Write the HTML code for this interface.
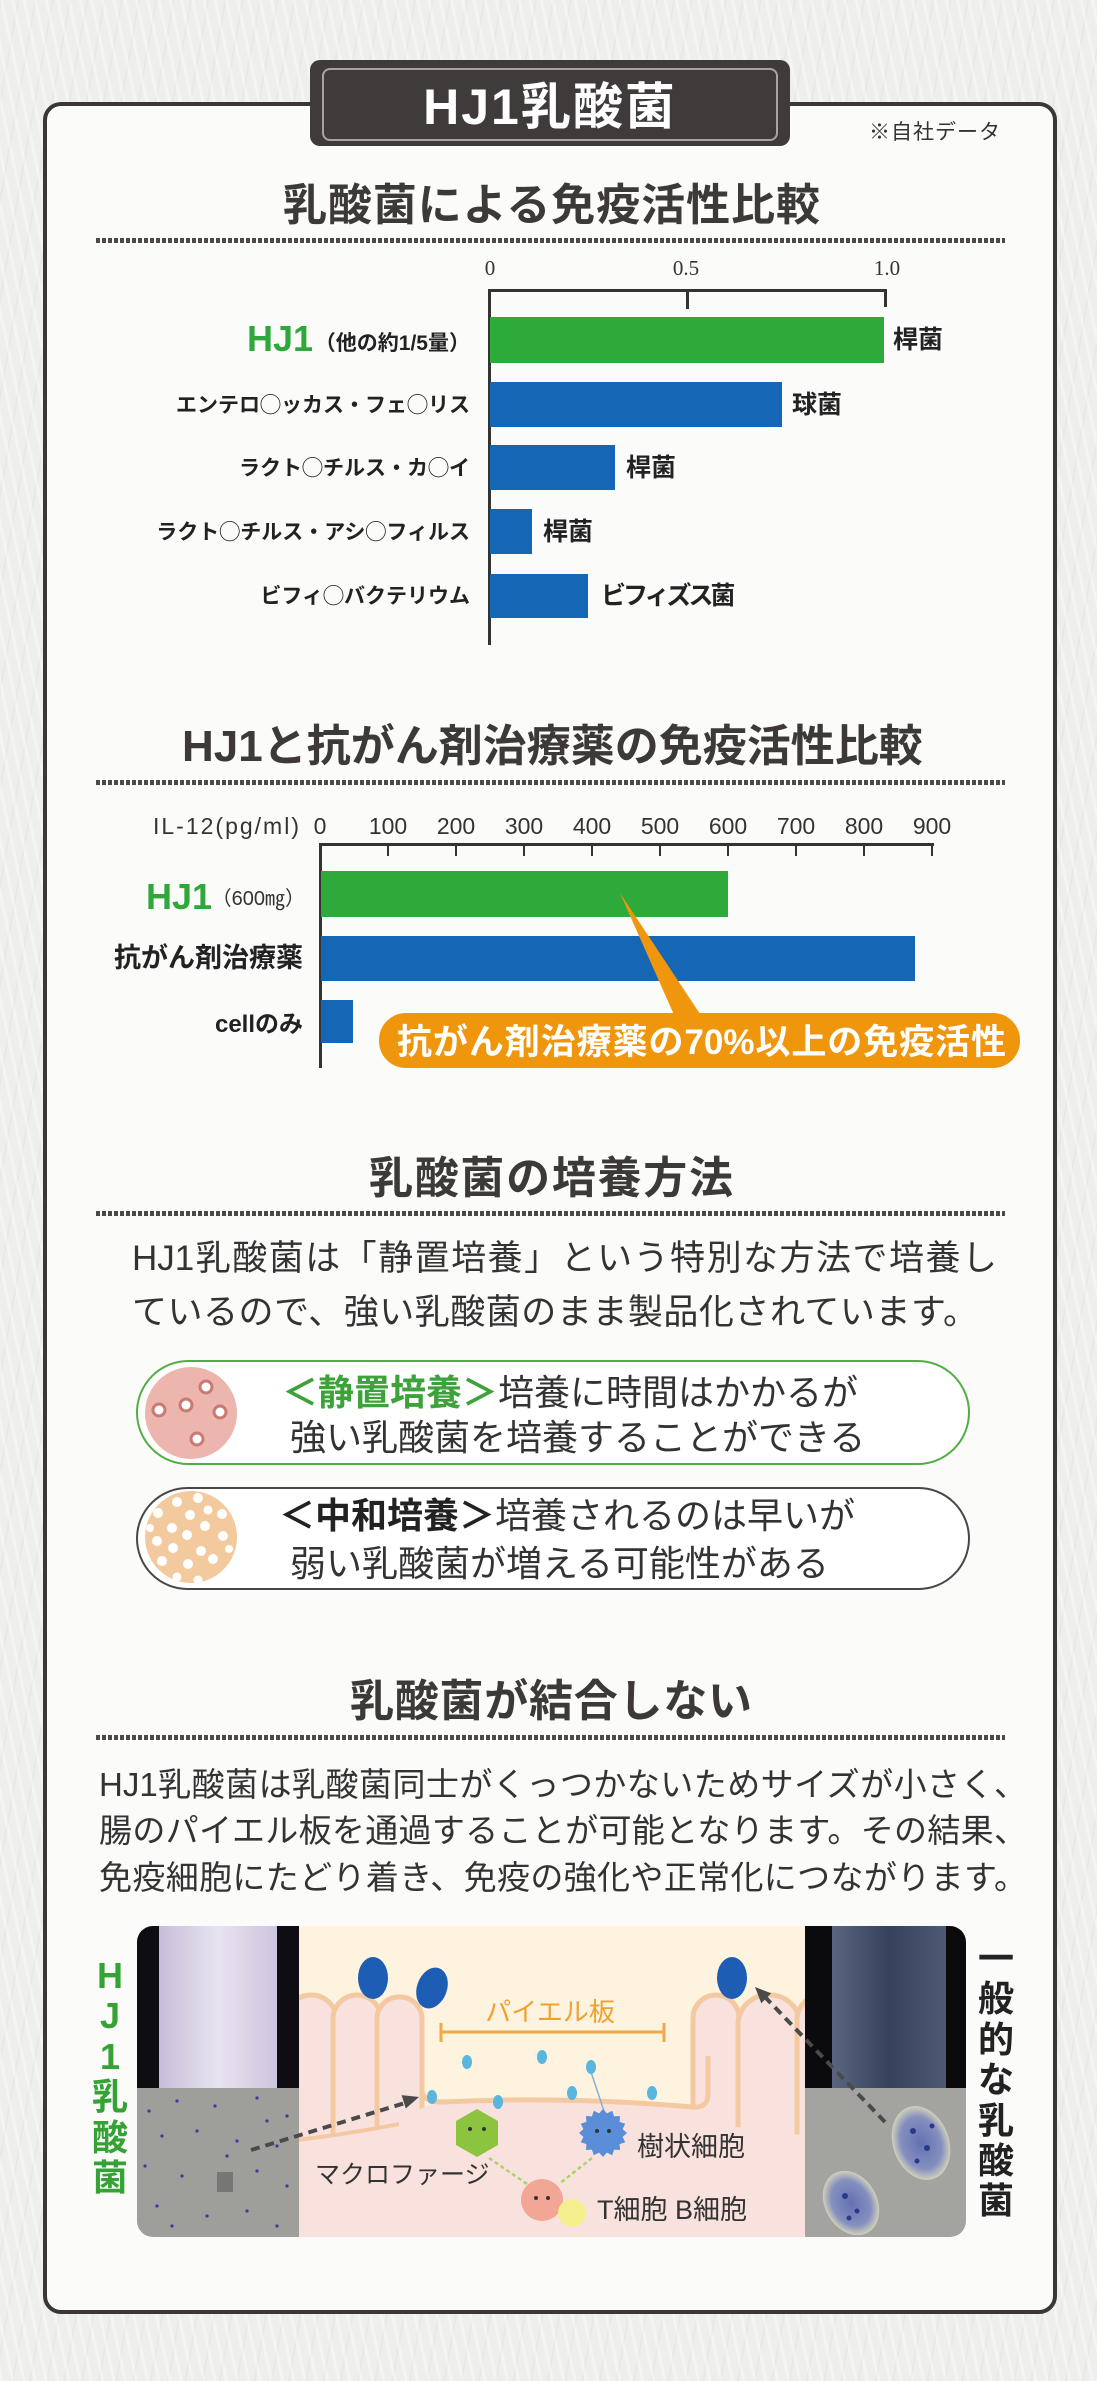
<!DOCTYPE html>
<html lang="ja">
<head>
<meta charset="utf-8">
<style>
html,body{margin:0;padding:0;}
body{width:1097px;height:2381px;position:relative;overflow:hidden;background:#eeeeec;font-family:"Liberation Sans","Noto Sans CJK JP",sans-serif;color:#333;}
.bgtex{position:absolute;left:0;top:0;width:1097px;height:2381px;background:
 repeating-linear-gradient(78deg,rgba(255,255,255,0.35) 0 3px,rgba(0,0,0,0) 3px 11px),
 repeating-linear-gradient(100deg,rgba(0,0,0,0.025) 0 2px,rgba(0,0,0,0) 2px 17px);}
.a{position:absolute;white-space:nowrap;}
.j{text-align:justify;text-align-last:justify;}
.card{position:absolute;left:43px;top:102px;width:1014px;height:2212px;box-sizing:border-box;border:4px solid #3b3737;border-radius:18px;background:#fbfbfa;}
.tab{position:absolute;left:310px;top:60px;width:480px;height:86px;background:#403b3b;border-radius:10px;}
.tabin{position:absolute;left:322px;top:68px;width:456px;height:73px;box-sizing:border-box;border:2px solid #a9a3a0;border-radius:8px;}
.t{font-size:44px;line-height:44px;font-weight:700;color:#3d3939;}
.dot{position:absolute;left:96px;width:909px;height:5px;background:repeating-linear-gradient(to right,#4d4949 0 4px,rgba(0,0,0,0) 4px 6px);}
.bar{position:absolute;}
.g{background:#2eaa3b;}
.b{background:#1566b4;}
.lab{font-size:21px;line-height:21px;font-weight:700;color:#222;}
.rl{font-size:25px;line-height:25px;font-weight:700;color:#222;}
.tk{font-size:23px;line-height:23px;color:#333;width:60px;text-align:center;}
.sk{font-family:"Liberation Serif",serif;font-size:21px;line-height:21px;color:#333;width:60px;text-align:center;}
.p35{font-size:35px;line-height:35px;color:#333;}
.p36{font-size:36px;line-height:36px;color:#333;}
.p33{font-size:33px;line-height:33px;color:#333;}
.vt{position:absolute;width:40px;text-align:center;font-size:36px;line-height:40.4px;font-weight:700;}
</style>
</head>
<body>
<div class="bgtex"></div>

<!-- main card -->
<div class="card"></div>
<div class="tab"></div>
<div class="tabin"></div>
<div class="a" style="left:310px;top:82px;width:480px;text-align:center;font-size:50px;line-height:50px;font-weight:700;color:#fff;letter-spacing:2px;">HJ1乳酸菌</div>
<div class="a" style="left:869px;top:122px;font-size:21px;line-height:21px;letter-spacing:1px;color:#333;">※自社データ</div>

<!-- Section 1 -->
<div class="a t j" style="left:283px;top:184px;width:537px;">乳酸菌による免疫活性比較</div>
<div class="dot" style="top:238px;"></div>

<div class="a sk" style="left:460px;top:258px;">0</div>
<div class="a sk" style="left:656px;top:258px;">0.5</div>
<div class="a sk" style="left:857px;top:258px;">1.0</div>
<div class="bar" style="left:488px;top:289px;width:399px;height:2.5px;background:#333;"></div>
<div class="bar" style="left:488px;top:289px;width:2.5px;height:356px;background:#333;"></div>
<div class="bar" style="left:686px;top:289px;width:2.5px;height:20px;background:#333;"></div>
<div class="bar" style="left:884px;top:289px;width:2.5px;height:18px;background:#333;"></div>

<div class="bar g" style="left:490px;top:317px;width:394px;height:46px;"></div>
<div class="bar b" style="left:490px;top:382px;width:292px;height:45px;"></div>
<div class="bar b" style="left:490px;top:445px;width:125px;height:45px;"></div>
<div class="bar b" style="left:490px;top:509px;width:42px;height:45px;"></div>
<div class="bar b" style="left:490px;top:574px;width:98px;height:44px;"></div>

<div class="a" style="right:784px;top:321px;font-size:36px;line-height:36px;font-weight:700;color:#2ea83a;">HJ1</div>
<div class="a lab" style="right:627px;top:333px;">（他の約1/5量）</div>
<div class="a lab" style="right:627px;top:395px;">エンテロ◯ッカス・フェ◯リス</div>
<div class="a lab" style="right:627px;top:458px;">ラクト◯チルス・カ◯イ</div>
<div class="a lab" style="right:627px;top:522px;">ラクト◯チルス・アシ◯フィルス</div>
<div class="a lab" style="right:627px;top:586px;">ビフィ◯バクテリウム</div>

<div class="a rl" style="left:893px;top:328px;">桿菌</div>
<div class="a rl" style="left:792px;top:393px;">球菌</div>
<div class="a rl" style="left:626px;top:456px;">桿菌</div>
<div class="a rl" style="left:543px;top:520px;">桿菌</div>
<div class="a rl" style="left:601px;top:584px;letter-spacing:-3px;">ビフィズス菌</div>

<!-- Section 2 -->
<div class="a t j" style="left:182px;top:725px;width:739px;">HJ1と抗がん剤治療薬の免疫活性比較</div>
<div class="dot" style="top:780px;"></div>

<div class="a" style="left:153px;top:815px;font-size:23px;line-height:23px;letter-spacing:2px;color:#333;">IL-12(pg/ml)</div>
<div class="a tk" style="left:290px;top:815px;">0</div>
<div class="a tk" style="left:358px;top:815px;">100</div>
<div class="a tk" style="left:426px;top:815px;">200</div>
<div class="a tk" style="left:494px;top:815px;">300</div>
<div class="a tk" style="left:562px;top:815px;">400</div>
<div class="a tk" style="left:630px;top:815px;">500</div>
<div class="a tk" style="left:698px;top:815px;">600</div>
<div class="a tk" style="left:766px;top:815px;">700</div>
<div class="a tk" style="left:834px;top:815px;">800</div>
<div class="a tk" style="left:902px;top:815px;">900</div>

<div class="bar" style="left:319px;top:843px;width:615px;height:2.5px;background:#333;"></div>
<div class="bar" style="left:319px;top:843px;width:2.5px;height:225px;background:#333;"></div>
<div class="bar" style="left:387px;top:843px;width:2px;height:13px;background:#333;"></div>
<div class="bar" style="left:455px;top:843px;width:2px;height:13px;background:#333;"></div>
<div class="bar" style="left:523px;top:843px;width:2px;height:13px;background:#333;"></div>
<div class="bar" style="left:591px;top:843px;width:2px;height:13px;background:#333;"></div>
<div class="bar" style="left:659px;top:843px;width:2px;height:13px;background:#333;"></div>
<div class="bar" style="left:727px;top:843px;width:2px;height:13px;background:#333;"></div>
<div class="bar" style="left:795px;top:843px;width:2px;height:13px;background:#333;"></div>
<div class="bar" style="left:863px;top:843px;width:2px;height:13px;background:#333;"></div>
<div class="bar" style="left:931px;top:843px;width:2px;height:13px;background:#333;"></div>

<div class="bar g" style="left:321px;top:871px;width:407px;height:46px;"></div>
<div class="bar b" style="left:321px;top:936px;width:594px;height:45px;"></div>
<div class="bar b" style="left:321px;top:1000px;width:32px;height:43px;"></div>

<div class="a" style="left:146px;top:879px;font-size:36px;line-height:36px;font-weight:700;color:#2ea83a;">HJ1</div>
<div class="a" style="right:792px;top:889px;font-size:20px;line-height:20px;color:#333;">（600㎎）</div>
<div class="a" style="right:794px;top:945px;font-size:27px;line-height:27px;font-weight:700;color:#222;">抗がん剤治療薬</div>
<div class="a" style="right:794px;top:1013px;font-size:24px;line-height:24px;font-weight:700;color:#222;">cellのみ</div>

<svg class="a" style="left:600px;top:880px;" width="120" height="140" viewBox="0 0 120 140">
<polygon points="20,13 75,137 102,137" fill="#f0960c"/>
</svg>
<div class="a" style="left:379px;top:1013px;width:641px;height:55px;background:#f0960c;border-radius:27px;"></div>
<div class="a j" style="left:397px;top:1025px;width:609px;font-size:35px;line-height:35px;font-weight:700;color:#fff;">抗がん剤治療薬の70%以上の免疫活性</div>

<!-- Section 3 -->
<div class="a t j" style="left:369px;top:1157px;width:364px;">乳酸菌の培養方法</div>
<div class="dot" style="top:1211px;"></div>

<div class="a p35 j" style="left:132px;top:1241px;width:865px;">HJ1乳酸菌は「静置培養」という特別な方法で培養し</div>
<div class="a p35 j" style="left:132px;top:1295px;width:846px;">ているので、強い乳酸菌のまま製品化されています。</div>

<div class="a" style="left:136px;top:1360px;width:834px;height:105px;box-sizing:border-box;border:2.5px solid #52ae43;border-radius:53px;background:#fff;"></div>
<div class="a" style="left:136px;top:1487px;width:834px;height:103px;box-sizing:border-box;border:2px solid #4a4646;border-radius:52px;background:#fff;"></div>
<svg class="a" style="left:0;top:1340px;" width="300" height="270" viewBox="0 1340 300 270">
<circle cx="191" cy="1413" r="46" fill="#ecb6ae"/>
<g fill="#fff" stroke="#c97a72" stroke-width="3">
<circle cx="159" cy="1410" r="6"/><circle cx="186" cy="1405" r="6"/><circle cx="206" cy="1387" r="6"/><circle cx="220" cy="1412" r="6"/><circle cx="197" cy="1439" r="6"/>
</g>
<circle cx="191" cy="1537" r="46" fill="#f2ca9e"/>
<g fill="#fff">
<circle cx="177" cy="1502" r="5"/><circle cx="198" cy="1498" r="5"/><circle cx="158" cy="1513" r="5"/><circle cx="190" cy="1515" r="5"/><circle cx="208" cy="1510" r="4.5"/><circle cx="222" cy="1514" r="5"/><circle cx="172" cy="1528" r="5"/><circle cx="205" cy="1526" r="5"/><circle cx="157" cy="1541" r="5"/><circle cx="187" cy="1535" r="5"/><circle cx="223" cy="1536" r="5"/><circle cx="173" cy="1548" r="5"/><circle cx="201" cy="1551" r="5"/><circle cx="162" cy="1561" r="5"/><circle cx="188" cy="1564" r="5"/><circle cx="213" cy="1559" r="5"/><circle cx="177" cy="1577" r="4.5"/><circle cx="198" cy="1580" r="4.5"/><circle cx="229" cy="1549" r="4"/><circle cx="150" cy="1528" r="4"/>
</g>
</svg>

<div class="a p36" style="left:282px;top:1375px;"><span style="font-weight:700;color:#3da23a;">＜静置培養＞</span>培養に時間はかかるが</div>
<div class="a p36" style="left:290px;top:1420px;">強い乳酸菌を培養することができる</div>
<div class="a p36" style="left:279px;top:1498px;"><span style="font-weight:700;color:#222;">＜中和培養＞</span>培養されるのは早いが</div>
<div class="a p36" style="left:290px;top:1546px;">弱い乳酸菌が増える可能性がある</div>

<!-- Section 4 -->
<div class="a t j" style="left:350px;top:1680px;width:402px;">乳酸菌が結合しない</div>
<div class="dot" style="top:1735px;"></div>

<div class="a p33 j" style="left:99px;top:1768px;width:928px;">HJ1乳酸菌は乳酸菌同士がくっつかないためサイズが小さく、</div>
<div class="a p33 j" style="left:99px;top:1814px;width:928px;">腸のパイエル板を通過することが可能となります。その結果、</div>
<div class="a p33 j" style="left:99px;top:1861px;width:928px;">免疫細胞にたどり着き、免疫の強化や正常化につながります。</div>

<!-- Illustration -->
<svg class="a" style="left:137px;top:1926px;" width="829" height="311" viewBox="0 0 829 311">
<defs>
<clipPath id="cl"><rect x="0" y="0" width="829" height="311" rx="16"/></clipPath>
<linearGradient id="lav" x1="0" x2="1" y1="0" y2="0"><stop offset="0" stop-color="#c6bed9"/><stop offset="0.5" stop-color="#e8e3f0"/><stop offset="1" stop-color="#cdc5de"/></linearGradient>
<linearGradient id="col" x1="0" x2="1" y1="0" y2="0"><stop offset="0" stop-color="#5a6680"/><stop offset="0.5" stop-color="#36425c"/><stop offset="1" stop-color="#4e5a74"/></linearGradient>
<radialGradient id="clu"><stop offset="0" stop-color="#5868b4"/><stop offset="0.7" stop-color="#7f8cc4"/><stop offset="1" stop-color="#d8d8c0"/></radialGradient>
</defs>
<g clip-path="url(#cl)">
<rect x="162" y="0" width="506" height="311" fill="#fdf3de"/>
<g fill="#f9e2de" stroke="#f4c9a2" stroke-width="5">
<rect x="148" y="69" width="52" height="170" rx="26"/>
<rect x="196" y="69" width="48" height="170" rx="24"/>
<rect x="240" y="71" width="45" height="160" rx="22"/>
<rect x="556" y="69" width="46" height="160" rx="23"/>
<rect x="601" y="69" width="62" height="170" rx="30"/>
<rect x="660" y="69" width="50" height="170" rx="25"/>
</g>
<path d="M150,311 L150,215 L262,200 Q283,178 305,176 Q430,170 556,181 Q580,184 590,200 L690,212 L690,311 Z" fill="#f9e2de"/>
<path d="M285,130 L285,166 Q287,176 305,176 Q430,170 556,181 Q570,182 571,170 L571,130" fill="none" stroke="#f4c9a2" stroke-width="5"/>
<path d="M150,215 Q200,210 262,198" fill="none" stroke="#f4c9a2" stroke-width="4"/>

<ellipse cx="236" cy="52" rx="15" ry="21" fill="#1d5db4"/>
<ellipse cx="295" cy="62" rx="15" ry="21" fill="#1d5db4" transform="rotate(20 295 62)"/>
<ellipse cx="595" cy="52" rx="15" ry="21" fill="#1d5db4"/>

<text x="413" y="95" text-anchor="middle" font-family="Liberation Sans, Noto Sans CJK JP, sans-serif" font-size="26" fill="#f0a030">パイエル板</text>
<g stroke="#f0a848" stroke-width="3">
<line x1="303" y1="106" x2="528" y2="106"/>
<line x1="304" y1="97" x2="304" y2="116"/>
<line x1="527" y1="97" x2="527" y2="116"/>
</g>

<path d="M454,146 Q462,170 468,188" fill="none" stroke="#8aaed0" stroke-width="1.5"/>
<g fill="#58b6df">
<ellipse cx="330" cy="136" rx="5" ry="7"/><ellipse cx="405" cy="131" rx="5" ry="7"/><ellipse cx="454" cy="141" rx="5" ry="7"/>
<ellipse cx="295" cy="171" rx="5" ry="7"/><ellipse cx="361" cy="176" rx="5" ry="7"/><ellipse cx="435" cy="167" rx="5" ry="7"/><ellipse cx="515" cy="167" rx="5" ry="7"/>
</g>

<polygon points="340,183 361,195 361,219 340,231 319,219 319,195" fill="#8cc43f"/>
<circle cx="333" cy="203" r="2" fill="#333"/><circle cx="347" cy="203" r="2" fill="#333"/>
<polygon points="490,207 485.6,210.9 488.2,216.2 482.6,218.1 483,224 477.1,223.6 475.2,229.2 469.9,226.6 466,231 462.1,226.6 456.8,229.2 454.9,223.6 449,224 449.4,218.1 443.8,216.2 446.4,210.9 442,207 446.4,203.1 443.8,197.8 449.4,195.9 449,190 454.9,190.4 456.8,184.8 462.1,187.4 466,183 469.9,187.4 475.2,184.8 477.1,190.4 483,190 482.6,195.9 488.2,197.8 485.6,203.1" fill="#5a8ed8"/>
<circle cx="460" cy="205" r="2" fill="#333"/><circle cx="472" cy="205" r="2" fill="#333"/>
<circle cx="405" cy="274" r="21" fill="#f2a696"/>
<circle cx="435" cy="287" r="14" fill="#f6ef8e"/>
<circle cx="399" cy="272" r="2" fill="#333"/><circle cx="411" cy="272" r="2" fill="#333"/>

<g stroke="#a8d46a" stroke-width="2.5" stroke-dasharray="4 3" fill="none">
<line x1="352" y1="232" x2="390" y2="258"/>
<line x1="455" y1="232" x2="422" y2="258"/>
</g>

<text x="178" y="257" font-family="Liberation Sans, Noto Sans CJK JP, sans-serif" font-size="25" fill="#333">マクロファージ</text>
<text x="500" y="230" font-family="Liberation Sans, Noto Sans CJK JP, sans-serif" font-size="27" fill="#333">樹状細胞</text>
<text x="460" y="293" font-family="Liberation Sans, Noto Sans CJK JP, sans-serif" font-size="27" fill="#333">T細胞 B細胞</text>

<!-- left panel -->
<rect x="0" y="0" width="162" height="162" fill="#0d0d12"/>
<rect x="22" y="0" width="118" height="162" fill="url(#lav)"/>
<rect x="0" y="162" width="162" height="149" fill="#9e9e9b"/>
<g fill="#3b3b9b">
<circle cx="12" cy="185" r="1.6"/><circle cx="40" cy="175" r="1.6"/><circle cx="78" cy="180" r="1.6"/><circle cx="120" cy="172" r="1.6"/><circle cx="150" cy="190" r="1.6"/>
<circle cx="25" cy="210" r="1.6"/><circle cx="60" cy="205" r="1.6"/><circle cx="100" cy="215" r="1.6"/><circle cx="140" cy="220" r="1.6"/><circle cx="8" cy="240" r="1.6"/>
<circle cx="45" cy="250" r="1.6"/><circle cx="120" cy="245" r="1.6"/><circle cx="150" cy="260" r="1.6"/><circle cx="20" cy="280" r="1.6"/><circle cx="70" cy="290" r="1.6"/>
<circle cx="110" cy="285" r="1.6"/><circle cx="140" cy="300" r="1.6"/><circle cx="35" cy="300" r="1.6"/><circle cx="90" cy="230" r="1.6"/><circle cx="130" cy="195" r="1.6"/>
</g>
<rect x="80" y="246" width="16" height="20" fill="#555" opacity="0.55"/>
<!-- right panel -->
<rect x="668" y="0" width="161" height="162" fill="#0b0b0e"/>
<rect x="695" y="0" width="114" height="162" fill="url(#col)"/>
<rect x="668" y="162" width="161" height="149" fill="#a3a3a0"/>
<ellipse cx="784" cy="217" rx="28" ry="38" fill="url(#clu)" opacity="0.85" transform="rotate(-20 784 217)"/>
<ellipse cx="714" cy="277" rx="26" ry="34" fill="url(#clu)" opacity="0.85" transform="rotate(-30 714 277)"/>
<g fill="#2a3a8a">
<circle cx="776" cy="205" r="3"/><circle cx="790" cy="222" r="3"/><circle cx="780" cy="235" r="2.5"/><circle cx="795" cy="200" r="2.5"/>
<circle cx="708" cy="270" r="3"/><circle cx="720" cy="285" r="2.5"/><circle cx="712" cy="292" r="2.5"/>
</g>

<!-- dashed arrows -->
<g stroke="#4a4a4a" stroke-width="4" stroke-dasharray="9 6" fill="none">
<line x1="114" y1="224" x2="268" y2="177"/>
<line x1="748" y1="196" x2="628" y2="71"/>
</g>
<polygon points="282,171 268.8,182.5 264.6,169.1" fill="#4a4a4a"/>
<polygon points="618,61 634.2,67.3 624.3,77.2" fill="#4a4a4a"/>
</g>
</svg>

<div class="vt" style="left:90px;top:1956px;color:#35a236;">H<br>J<br>1<br>乳<br>酸<br>菌</div>
<div class="vt" style="left:976px;top:1939px;color:#222;">一<br>般<br>的<br>な<br>乳<br>酸<br>菌</div>

</body>
</html>
